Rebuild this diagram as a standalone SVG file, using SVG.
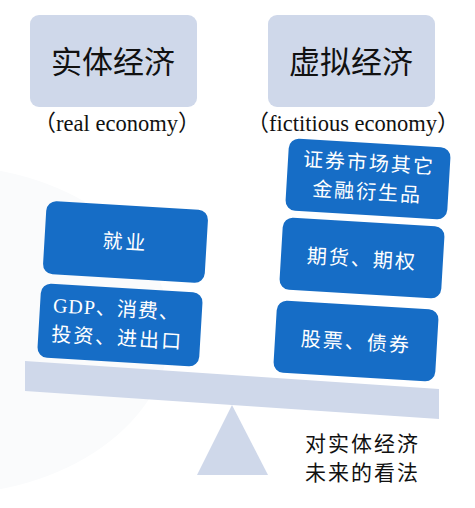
<svg xmlns="http://www.w3.org/2000/svg" width="475" height="508" viewBox="0 0 475 508">
<style>
.t{font-family:"Liberation Serif","Noto Sans CJK SC",serif;}
.hd{fill:#cfd8ea;}
.big{font-size:31px;fill:#111;text-anchor:middle;}
.sub{font-size:22.5px;fill:#111;text-anchor:middle;}
.box{fill:#166dc6;}
.wt{font-size:20px;fill:#fff;text-anchor:middle;}
.ws{font-size:20px;fill:#fff;text-anchor:start;}
.bl{font-size:21px;fill:#111;letter-spacing:2px;}
</style>
<rect width="475" height="508" fill="#fff"/>
<ellipse cx="-60" cy="330" rx="230" ry="165" fill="#fafbfc"/>

<g id="real">
<rect class="hd" x="30" y="15" width="167" height="92" rx="9"/>
<text class="t big" x="113" y="73">实体经济</text>
<text class="t sub" x="117" y="131">（real economy）</text>
</g>
<g id="fictitious">
<rect class="hd" x="268" y="15" width="167" height="92" rx="9"/>
<text class="t big" x="351" y="73">虚拟经济</text>
<text class="t sub" x="353" y="131">（fictitious economy）</text>
</g>

<g id="jiuye" transform="translate(125.5,242) rotate(3.4)">
<rect class="box" x="-81" y="-36.5" width="162" height="73" rx="10"/>
<text class="t wt" x="0" y="7" letter-spacing="3">就业</text>
</g>
<g id="gdp" transform="translate(120,325) rotate(3.4)">
<rect class="box" x="-81" y="-37" width="162" height="74" rx="10"/>
<text class="t ws" x="-68" y="-9" letter-spacing="1">GDP、消费、</text>
<text class="t ws" x="-68" y="20" letter-spacing="2">投资、进出口</text>
</g>
<g id="zhengquan" transform="translate(368,179) rotate(3.4)">
<rect class="box" x="-81" y="-36" width="162" height="72" rx="10"/>
<text class="t wt" x="0" y="-9" letter-spacing="2">证券市场其它</text>
<text class="t wt" x="0" y="20" letter-spacing="2">金融衍生品</text>
</g>
<g id="qihuo" transform="translate(362,258) rotate(3.4)">
<rect class="box" x="-81" y="-36" width="162" height="72" rx="10"/>
<text class="t wt" x="0" y="8" letter-spacing="2">期货、期权</text>
</g>
<g id="gupiao" transform="translate(356,341) rotate(3.4)">
<rect class="box" x="-81" y="-36" width="162" height="72" rx="10"/>
<text class="t wt" x="0" y="8" letter-spacing="2">股票、债券</text>
</g>

<g id="scale">
<polygon class="hd" points="25,361 439,389 439,419 25,391"/>
<polygon class="hd" points="232,405 268,475 197,475"/>
</g>

<g id="view">
<text class="t bl" x="305" y="451">对实体经济</text>
<text class="t bl" x="305" y="480">未来的看法</text>
</g>
</svg>
